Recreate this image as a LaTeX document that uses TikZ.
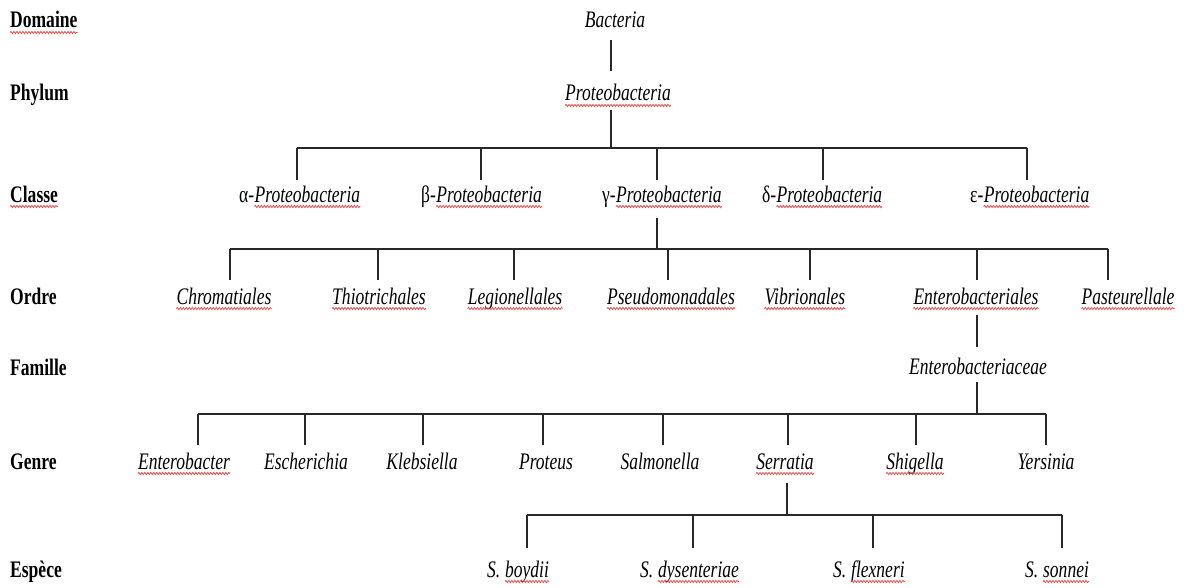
\documentclass[tikz,border=0pt]{standalone}
\usepackage{fontspec}
\setmainfont{Liberation Serif}[FakeStretch=0.74]
\usetikzlibrary{decorations.pathmorphing}
\definecolor{sqred}{RGB}{235,80,80}
\definecolor{lncol}{RGB}{40,40,40}
\begin{document}
\begin{tikzpicture}[x=1pt,y=1pt,
  lbl/.style={anchor=base west,inner sep=0pt,font=\fontsize{23.7}{28}\selectfont\bfseries},
  tx/.style={anchor=base,inner sep=0pt,font=\fontsize{23.7}{28}\selectfont\itshape},
  txw/.style={anchor=base west,inner sep=0pt,font=\fontsize{23.7}{28}\selectfont\itshape},
  pre/.style={anchor=base west,inner sep=0pt,font=\fontsize{23.7}{28}\selectfont},
  ln/.style={draw=lncol,line width=1.2pt},
  sqline/.style={draw=sqred,line width=0.8pt,decorate,decoration={snake,amplitude=1.1pt,segment length=3pt}}]
\useasboundingbox[fill=white] (0,0) rectangle (1185,-588);
% rank labels
\node[lbl] (lDom) at (10,-28) {Domaine};
\node[lbl] (lPhy) at (10,-101) {Phylum};
\node[lbl] (lCla) at (10,-202) {Classe};
\node[lbl] (lOrd) at (10,-304) {Ordre};
\node[lbl] (lFam) at (10,-375) {Famille};
\node[lbl] (lGen) at (10,-469) {Genre};
\node[lbl] (lEsp) at (10,-577) {Espèce};
% taxa
\node[tx] (bac) at (615,-28) {Bacteria};
\node[tx] (pro) at (618,-101) {Proteobacteria};
\node[pre] (alpP) at (239,-202) {α-};
\node[txw] (alp) at (alpP.base east) {Proteobacteria};
\node[pre] (betP) at (421,-202) {β-};
\node[txw] (bet) at (betP.base east) {Proteobacteria};
\node[pre] (gamP) at (602,-202) {γ-};
\node[txw] (gam) at (gamP.base east) {Proteobacteria};
\node[pre] (delP) at (762,-202) {δ-};
\node[txw] (del) at (delP.base east) {Proteobacteria};
\node[pre] (epsP) at (970,-202) {ε-};
\node[txw] (eps) at (epsP.base east) {Proteobacteria};
\node[tx] (chr) at (224,-304) {Chromatiales};
\node[tx] (thi) at (379,-304) {Thiotrichales};
\node[tx] (leg) at (515,-304) {Legionellales};
\node[tx] (pse) at (671,-304) {Pseudomonadales};
\node[tx] (vib) at (805,-304) {Vibrionales};
\node[tx] (ent) at (976,-304) {Enterobacteriales};
\node[tx] (pas) at (1128,-304) {Pasteurellale};
\node[tx] (eac) at (978,-374) {Enterobacteriaceae};
\node[tx] (gEnt) at (184,-469) {Enterobacter};
\node[tx] (gEsc) at (306,-469) {Escherichia};
\node[tx] (gKle) at (422,-469) {Klebsiella};
\node[tx] (gPro) at (546,-469) {Proteus};
\node[tx] (gSal) at (660,-469) {Salmonella};
\node[tx] (gSer) at (785,-469) {Serratia};
\node[tx] (gShi) at (915,-469) {Shigella};
\node[tx] (gYer) at (1046,-469) {Yersinia};
\node[txw] (sBoyP) at (487,-577) {S.\ \null};
\node[txw] (sBoy) at (sBoyP.base east) {boydii};
\node[txw] (sDysP) at (640,-577) {S.\ \null};
\node[txw] (sDys) at (sDysP.base east) {dysenteriae};
\node[txw] (sFleP) at (833,-577) {S.\ \null};
\node[txw] (sFle) at (sFleP.base east) {flexneri};
\node[txw] (sSonP) at (1025,-577) {S.\ \null};
\node[txw] (sSon) at (sSonP.base east) {sonnei};
% spell-check wavy underlines
\foreach \n in {lDom,lCla,pro,alp,bet,gam,del,eps,chr,thi,leg,pse,vib,ent,pas,gEnt,gSer,gShi,sBoy,sDys,sFle,sSon}
  \draw[sqline] ([yshift=-4.5pt]\n.base west) -- ([yshift=-4.5pt]\n.base east);
% junction coordinates
\coordinate (bacB) at (611,-40);
\coordinate (proT) at (611,-71);
\coordinate (proB) at (611,-110);
\coordinate (claL) at (297,-148);
\coordinate (claR) at (1027,-148);
\coordinate (gamB) at (657,-218);
\coordinate (ordL) at (230,-249);
\coordinate (ordR) at (1108,-249);
\coordinate (entB) at (977,-315);
\coordinate (eacT) at (977,-347);
\coordinate (eacB) at (977,-382);
\coordinate (genL) at (198,-414);
\coordinate (genR) at (1046,-414);
\coordinate (serB) at (787,-483);
\coordinate (spL) at (527,-515);
\coordinate (spR) at (1062,-515);
% drop tops (child ends)
\coordinate (alpT) at (297,-180);
\coordinate (betT) at (481,-180);
\coordinate (gamT) at (657,-180);
\coordinate (delT) at (823,-180);
\coordinate (epsT) at (1027,-180);
\coordinate (chrT) at (230,-280);
\coordinate (thiT) at (378,-280);
\coordinate (legT) at (514,-280);
\coordinate (pseT) at (668,-280);
\coordinate (vibT) at (810,-280);
\coordinate (entT) at (977,-280);
\coordinate (pasT) at (1108,-280);
\coordinate (gEntT) at (198,-445);
\coordinate (gEscT) at (305,-445);
\coordinate (gKleT) at (423,-445);
\coordinate (gProT) at (543,-445);
\coordinate (gSalT) at (663,-445);
\coordinate (gSerT) at (788,-445);
\coordinate (gShiT) at (916,-445);
\coordinate (gYerT) at (1046,-445);
\coordinate (sBoyT) at (527,-548);
\coordinate (sDysT) at (693,-548);
\coordinate (sFleT) at (873,-548);
\coordinate (sSonT) at (1062,-548);
% connectors
\draw[ln] (bacB) -- (proT);
\draw[ln] (proB) -- (proB |- claL);
\draw[ln] (claL) -- (claR);
\foreach \c in {alpT,betT,gamT,delT,epsT} \draw[ln] (\c) -- (\c |- claL);
\draw[ln] (gamB) -- (gamB |- ordL);
\draw[ln] (ordL) -- (ordR);
\foreach \c in {chrT,thiT,legT,pseT,vibT,entT,pasT} \draw[ln] (\c) -- (\c |- ordL);
\draw[ln] (entB) -- (eacT);
\draw[ln] (eacB) -- (eacB |- genL);
\draw[ln] (genL) -- (genR);
\foreach \c in {gEntT,gEscT,gKleT,gProT,gSalT,gSerT,gShiT,gYerT} \draw[ln] (\c) -- (\c |- genL);
\draw[ln] (serB) -- (serB |- spL);
\draw[ln] (spL) -- (spR);
\foreach \c in {sBoyT,sDysT,sFleT,sSonT} \draw[ln] (\c) -- (\c |- spL);
\end{tikzpicture}
\end{document}
